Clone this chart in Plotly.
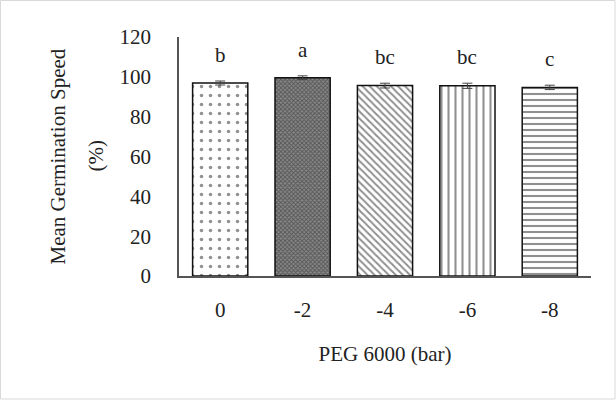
import plotly.graph_objects as go

categories = ["0", "-2", "-4", "-6", "-8"]
values = [96.9, 99.6, 95.6, 95.5, 94.7]
errors = [1.0, 0.9, 1.2, 1.3, 1.1]
letters = ["b", "a", "bc", "bc", "c"]
y_ticks = [0, 20, 40, 60, 80, 100, 120]
y_title_lines = ["Mean Germination Speed", "(%)"]
x_title = "PEG 6000 (bar)"

W, H = 616, 400
L, R, T, B = 179, 25, 37, 124
FONT = "Liberation Serif, serif"
FS = 21

patterns = [
    dict(shape=".", size=9, solidity=0.12, fgcolor="#222", bgcolor="white"),
    dict(shape="x", size=3, solidity=0.5, fgcolor="#222", bgcolor="#888"),
    dict(shape="\\", size=5, solidity=0.4, fgcolor="#222", bgcolor="white"),
    dict(shape="|", size=7, solidity=0.3, fgcolor="#222", bgcolor="white"),
    dict(shape="-", size=6, solidity=0.35, fgcolor="#222", bgcolor="white"),
]

fig = go.Figure()
fig.add_trace(go.Bar(
    x=categories, y=values,
    marker=dict(color="white", line=dict(color="#111", width=1.5),
                pattern=dict(
                    shape=[p["shape"] for p in patterns],
                    size=[p["size"] for p in patterns],
                    solidity=[p["solidity"] for p in patterns],
                    fgcolor=[p["fgcolor"] for p in patterns],
                    bgcolor=[p["bgcolor"] for p in patterns],
                )),
    width=0.67,
    error_y=dict(type="data", array=errors, color="#444", thickness=1, width=5),
    showlegend=False,
))

# category axis: annotations positioned by category index
for i, (v, e, lt) in enumerate(zip(values, errors, letters)):
    fig.add_annotation(x=i, y=v + e, text=lt, showarrow=False, yshift=26,
                       font=dict(family=FONT, size=FS, color="#222"))

pw = W - L - R
ph = H - T - B
fig.add_annotation(xref="paper", yref="paper", x=(57 - L) / pw, y=0.5,
                   xanchor="center", yanchor="middle",
                   text=y_title_lines[0], textangle=-90, showarrow=False,
                   font=dict(family=FONT, size=FS, color="#222"))
fig.add_annotation(xref="paper", yref="paper", x=(95 - L) / pw, y=0.5,
                   xanchor="center", yanchor="middle",
                   text=y_title_lines[1], textangle=-90, showarrow=False,
                   font=dict(family=FONT, size=FS, color="#222"))

fig.add_shape(type="rect", xref="paper", yref="paper",
              x0=-L / pw + 0.5 / pw, x1=1 + (R - 1) / pw,
              y0=-(B - 1) / ph, y1=1 + (T - 0.5) / ph,
              line=dict(color="#d9d9d9", width=1), layer="below")

fig.update_layout(
    width=W, height=H,
    margin=dict(l=L, r=R, t=T, b=B),
    paper_bgcolor="white", plot_bgcolor="white",
    font=dict(family=FONT, size=FS, color="#222"),
    bargap=0.33,
    xaxis=dict(type="category", range=[-0.5, 4.5], showline=True, linecolor="#555",
               linewidth=1.5, ticks="",
               title=dict(text=x_title, font=dict(size=FS), standoff=25),
               ticklabelstandoff=14),
    yaxis=dict(range=[0, 120], tickvals=y_ticks, showline=True, linecolor="#555",
               linewidth=1.5, showgrid=False, ticks="", zeroline=False,
               ticklabelstandoff=22),
)

fig.write_html("out.html")
